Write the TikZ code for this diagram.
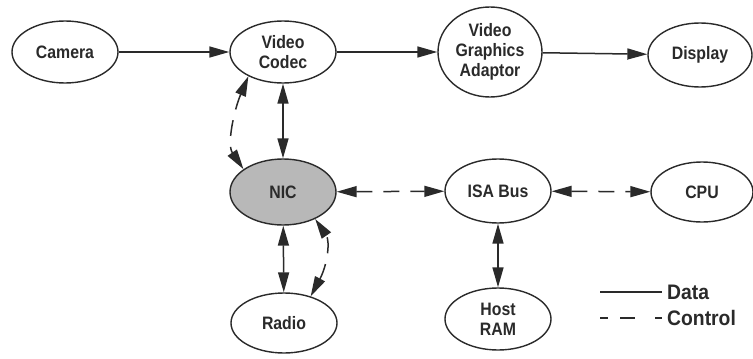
\documentclass[tikz,border=0pt]{standalone}
\usepackage{fontspec}
\setmainfont{Liberation Sans}[FakeStretch=0.88]
\newfontfamily\legendfont{Liberation Sans}[FakeStretch=0.92]
\usetikzlibrary{arrows.meta,shapes.geometric}
\definecolor{ink}{HTML}{2A2A2A}
\definecolor{nicfill}{HTML}{B8B8B8}

\begin{document}
\begin{tikzpicture}[x=1pt,y=-1pt,
  unit/.style={ellipse, draw=ink, line width=1.4pt, inner sep=0pt,
    minimum width=106pt, minimum height=62pt, align=center, text=ink,
    font=\fontsize{18}{20}\selectfont\bfseries},
  tip/.tip={Triangle[length=20pt,width=11pt]},
  link/.style={draw=ink, line width=1.5pt},
  data/.style={link, -tip},
  datab/.style={link, tip-tip},
  ctrlb/.style={link, tip-tip, dash pattern=on 16pt off 11pt},
  legendtext/.style={anchor=west, inner sep=0pt, text=ink,
    font=\legendfont\fontsize{21}{22}\selectfont\bfseries}]

\useasboundingbox (0,0) rectangle (753,359);
\fill[white] (0,0) rectangle (753,359);

% components
\node[unit] (cam) at (65,52) {Camera};
\node[unit] (vc) at (283,52) {Video\\Codec};
\node[unit, minimum width=104pt, minimum height=90pt] (vga) at (490,52) {Video\\Graphics\\Adaptor};
\node[unit, minimum width=104pt, minimum height=64pt] (disp) at (700,55) {Display};
\node[unit, fill=nicfill, minimum height=66pt] (nic) at (283,192) {NIC};
\node[unit, minimum height=64pt] (isa) at (498,191) {ISA Bus};
\node[unit, minimum width=102pt, minimum height=60pt] (cpu) at (702,192) {CPU};
\node[unit, minimum height=60pt] (radio) at (284,323) {Radio};
\node[unit] (ram) at (498,319) {Host\\RAM};

% data paths
\draw[data] (cam) -- (vc);
\draw[data] (vc) -- (vga);
\draw[data] (vga) -- (disp);
\draw[datab] (vc) -- (nic);
\draw[datab] (nic) -- (radio);
\draw[datab] (isa) -- (ram);

% control paths
\draw[ctrlb] (nic) -- (isa);
\draw[ctrlb] (isa) -- (cpu);
\draw[ctrlb] (vc.215) .. controls +(-14,33) and +(-17,-25) .. (nic.150);
\draw[ctrlb] (radio.45) .. controls +(17,-32) and +(15,22) .. (nic.320);

% legend
\node[legendtext] (ldata) at (667,292) {Data};
\node[legendtext] (lctrl) at (667,318) {Control};
\coordinate (ld0) at (600,292);
\coordinate (lc0) at (600,318);
\draw[link, line width=1.3pt] (ld0) -- ([xshift=-5pt]ldata.west);
\draw[link, line width=1.3pt, dash pattern=on 8pt off 12pt on 15pt off 20pt on 10pt] (lc0) -- ([xshift=-5pt]lctrl.west);
\end{tikzpicture}
\end{document}
